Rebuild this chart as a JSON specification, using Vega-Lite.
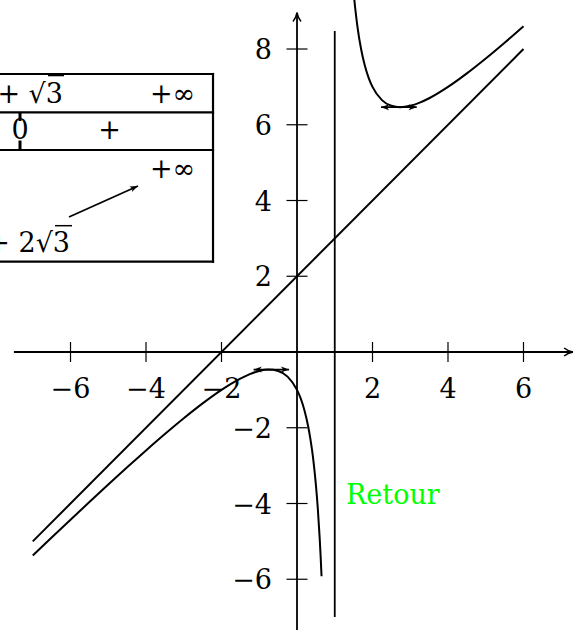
{
  "$schema": "https://vega.github.io/schema/vega-lite/v6.json",
  "width": 574,
  "height": 630,
  "padding": 0,
  "autosize": {"type": "none", "contains": "padding"},
  "config": {"view": {"stroke": null}, "font": "DejaVu Serif"},
  "datasets": {
    "curves": [
      {"x": -7, "y": -5, "c": "asym"}, {"x": 6, "y": 8, "c": "asym"},
      {"x": -7, "y": -5.375, "c": "left"}, {"x": -6.5, "y": -4.9, "c": "left"}, {"x": -6, "y": -4.4286, "c": "left"},
      {"x": -5.5, "y": -3.9615, "c": "left"}, {"x": -5, "y": -3.5, "c": "left"}, {"x": -4.5, "y": -3.0455, "c": "left"},
      {"x": -4, "y": -2.6, "c": "left"}, {"x": -3.5, "y": -2.1667, "c": "left"}, {"x": -3, "y": -1.75, "c": "left"},
      {"x": -2.5, "y": -1.3571, "c": "left"}, {"x": -2, "y": -1, "c": "left"}, {"x": -1.75, "y": -0.8409, "c": "left"},
      {"x": -1.5, "y": -0.7, "c": "left"}, {"x": -1.25, "y": -0.5833, "c": "left"}, {"x": -1, "y": -0.5, "c": "left"},
      {"x": -0.75, "y": -0.4643, "c": "left"}, {"x": -0.5, "y": -0.5, "c": "left"}, {"x": -0.25, "y": -0.65, "c": "left"},
      {"x": 0, "y": -1, "c": "left"}, {"x": 0.1, "y": -1.2333, "c": "left"}, {"x": 0.2, "y": -1.55, "c": "left"},
      {"x": 0.3, "y": -1.9857, "c": "left"}, {"x": 0.35, "y": -2.2654, "c": "left"}, {"x": 0.4, "y": -2.6, "c": "left"},
      {"x": 0.45, "y": -3.0045, "c": "left"}, {"x": 0.5, "y": -3.5, "c": "left"}, {"x": 0.55, "y": -4.1167, "c": "left"},
      {"x": 0.6, "y": -4.9, "c": "left"}, {"x": 0.625, "y": -5.375, "c": "left"}, {"x": 0.65, "y": -5.9214, "c": "left"},
      {"x": 1.45, "y": 10.1167, "c": "right"}, {"x": 1.5, "y": 9.5, "c": "right"}, {"x": 1.55, "y": 9.0045, "c": "right"},
      {"x": 1.6, "y": 8.6, "c": "right"}, {"x": 1.7, "y": 7.9857, "c": "right"}, {"x": 1.8, "y": 7.55, "c": "right"},
      {"x": 1.9, "y": 7.2333, "c": "right"}, {"x": 2, "y": 7, "c": "right"}, {"x": 2.25, "y": 6.65, "c": "right"},
      {"x": 2.5, "y": 6.5, "c": "right"}, {"x": 2.732, "y": 6.464, "c": "right"}, {"x": 3, "y": 6.5, "c": "right"},
      {"x": 3.25, "y": 6.5833, "c": "right"}, {"x": 3.5, "y": 6.7, "c": "right"}, {"x": 4, "y": 7, "c": "right"},
      {"x": 4.5, "y": 7.3571, "c": "right"}, {"x": 5, "y": 7.75, "c": "right"}, {"x": 5.5, "y": 8.1667, "c": "right"},
      {"x": 6, "y": 8.6, "c": "right"}
    ],
    "segs": [
      {"x": -7.5, "y": 0, "x2": 7.31, "y2": 0, "g": "axis"},
      {"x": 0, "y": -7.5, "x2": 0, "y2": 8.96, "g": "axis"},
      {"x": 1, "y": -7.0, "x2": 1, "y2": 8.475, "g": "axis"},
      {"x": -9, "y": 7.34, "x2": -2.225, "y2": 7.34, "g": "table"},
      {"x": -9, "y": 6.329, "x2": -2.225, "y2": 6.329, "g": "table"},
      {"x": -9, "y": 5.333, "x2": -2.225, "y2": 5.333, "g": "table"},
      {"x": -9, "y": 2.384, "x2": -2.225, "y2": 2.384, "g": "table"},
      {"x": -2.225, "y": 2.384, "x2": -2.225, "y2": 7.34, "g": "table"},
      {"x": -7.338, "y": 6.329, "x2": -7.338, "y2": 6.099, "g": "bar"},
      {"x": -7.338, "y": 5.584, "x2": -7.338, "y2": 5.333, "g": "bar"},
      {"x": -1.15, "y": -0.464, "x2": -0.21, "y2": -0.464, "g": "arrow"},
      {"x": 2.225, "y": 6.464, "x2": 3.171, "y2": 6.464, "g": "arrow"},
      {"x": -6.04, "y": 3.564, "x2": -4.212, "y2": 4.383, "g": "arrow"},
      {"x": -6.596, "y": 7.3, "x2": -6.172, "y2": 7.3, "g": "over"},
      {"x": -6.411, "y": 3.335, "x2": -5.96, "y2": 3.335, "g": "over"}
    ],
    "heads": [
      {"x": 7.31, "y": 0, "d": "axr"},
      {"x": 0, "y": 8.96, "d": "axu"},
      {"x": -0.21, "y": -0.464, "d": "r"},
      {"x": -1.15, "y": -0.464, "d": "l"},
      {"x": 3.171, "y": 6.464, "d": "r"},
      {"x": 2.225, "y": 6.464, "d": "l"},
      {"x": -4.212, "y": 4.383, "d": "ne"}
    ],
    "ticks": [
      {"x": -6, "y": 0, "a": "x", "t": "−6"}, {"x": -4, "y": 0, "a": "x", "t": "−4"}, {"x": -2, "y": 0, "a": "x", "t": "−2"},
      {"x": 2, "y": 0, "a": "x", "t": "2"}, {"x": 4, "y": 0, "a": "x", "t": "4"}, {"x": 6, "y": 0, "a": "x", "t": "6"},
      {"x": 0, "y": 8, "a": "y", "t": "8"}, {"x": 0, "y": 6, "a": "y", "t": "6"}, {"x": 0, "y": 4, "a": "y", "t": "4"},
      {"x": 0, "y": 2, "a": "y", "t": "2"}, {"x": 0, "y": -2, "a": "y", "t": "−2"}, {"x": 0, "y": -4, "a": "y", "t": "−4"},
      {"x": 0, "y": -6, "a": "y", "t": "−6"}
    ],
    "tabtext": [
      {"x": -3.298, "y": 6.587, "t": "+∞"},
      {"x": -7.338, "y": 5.611, "t": "0"},
      {"x": -4.967, "y": 5.611, "t": "+"},
      {"x": -3.298, "y": 4.607, "t": "+∞"}
    ],
    "tabends": [
      {"x": -6.199, "y": 6.587, "t": "1 + √3"},
      {"x": -6.013, "y": 2.653, "t": "3 + 2√3"}
    ],
    "notes": [
      {"x": 1.298, "y": -4.013, "t": "Retour"}
    ]
  },
  "encoding": {
    "x": {"field": "x", "type": "quantitative", "scale": {"domain": [-7.868, 7.338], "nice": false, "zero": false}, "axis": null},
    "y": {"field": "y", "type": "quantitative", "scale": {"domain": [-7.34, 9.294], "nice": false, "zero": false}, "axis": null}
  },
  "layer": [
    {
      "data": {"name": "segs"},
      "transform": [{"filter": "datum.g === 'table'"}],
      "mark": {"type": "rule", "color": "black", "strokeWidth": 2.2, "strokeCap": "square", "clip": true},
      "encoding": {"x2": {"field": "x2"}, "y2": {"field": "y2"}}
    },
    {
      "data": {"name": "segs"},
      "transform": [{"filter": "datum.g === 'bar'"}],
      "mark": {"type": "rule", "color": "black", "strokeWidth": 3, "clip": true},
      "encoding": {"x2": {"field": "x2"}, "y2": {"field": "y2"}}
    },
    {
      "data": {"name": "segs"},
      "transform": [{"filter": "datum.g === 'over'"}],
      "mark": {"type": "rule", "color": "black", "strokeWidth": 1.5, "clip": true},
      "encoding": {"x2": {"field": "x2"}, "y2": {"field": "y2"}}
    },
    {
      "data": {"name": "segs"},
      "transform": [{"filter": "datum.g === 'axis'"}],
      "mark": {"type": "rule", "color": "black", "strokeWidth": 1.8, "clip": true},
      "encoding": {"x2": {"field": "x2"}, "y2": {"field": "y2"}}
    },
    {
      "data": {"name": "segs"},
      "transform": [{"filter": "datum.g === 'arrow'"}],
      "mark": {"type": "rule", "color": "black", "strokeWidth": 1.8, "clip": true},
      "encoding": {"x2": {"field": "x2"}, "y2": {"field": "y2"}}
    },
    {
      "data": {"name": "curves"},
      "mark": {"type": "line", "color": "black", "strokeWidth": 2, "interpolate": "monotone", "clip": true},
      "encoding": {"detail": {"field": "c"}}
    },
    {
      "data": {"name": "ticks"},
      "transform": [{"filter": "datum.a === 'x'"}],
      "mark": {"type": "tick", "orient": "vertical", "color": "black", "size": 20, "thickness": 1.2, "opacity": 1, "clip": true}
    },
    {
      "data": {"name": "ticks"},
      "transform": [{"filter": "datum.a === 'y'"}],
      "mark": {"type": "tick", "orient": "horizontal", "color": "black", "size": 21, "thickness": 1.2, "opacity": 1, "clip": true}
    },
    {
      "data": {"name": "ticks"},
      "transform": [{"filter": "datum.a === 'x'"}],
      "mark": {"type": "text", "color": "black", "font": "DejaVu Serif", "fontSize": 27, "align": "center", "baseline": "alphabetic", "dy": 46, "clip": true},
      "encoding": {"text": {"field": "t"}}
    },
    {
      "data": {"name": "ticks"},
      "transform": [{"filter": "datum.a === 'y'"}],
      "mark": {"type": "text", "color": "black", "font": "DejaVu Serif", "fontSize": 27, "align": "right", "baseline": "alphabetic", "dx": -25, "dy": 10, "clip": true},
      "encoding": {"text": {"field": "t"}}
    },
    {
      "data": {"name": "tabtext"},
      "mark": {"type": "text", "color": "black", "font": "DejaVu Serif", "fontSize": 27, "align": "center", "baseline": "alphabetic", "clip": true},
      "encoding": {"text": {"field": "t"}}
    },
    {
      "data": {"name": "tabends"},
      "mark": {"type": "text", "color": "black", "font": "DejaVu Serif", "fontSize": 27, "align": "right", "baseline": "alphabetic", "clip": true},
      "encoding": {"text": {"field": "t"}}
    },
    {
      "data": {"name": "notes"},
      "mark": {"type": "text", "color": "#00ff00", "font": "DejaVu Serif", "fontSize": 27, "align": "left", "baseline": "alphabetic", "clip": true},
      "encoding": {"text": {"field": "t"}}
    },
    {
      "data": {"name": "heads"},
      "transform": [{"filter": "datum.d === 'axr'"}],
      "mark": {"type": "point", "shape": "M -2.2 -1 C -1.5 -0.4 -0.5 -0.1 0 0 C -0.5 0.1 -1.5 0.4 -2.2 1", "size": 64, "angle": 0, "filled": false, "stroke": "black", "strokeWidth": 1.5, "opacity": 1, "clip": true}
    },
    {
      "data": {"name": "heads"},
      "transform": [{"filter": "datum.d === 'axu'"}],
      "mark": {"type": "point", "shape": "M -2.2 -1 C -1.5 -0.4 -0.5 -0.1 0 0 C -0.5 0.1 -1.5 0.4 -2.2 1", "size": 64, "angle": -90, "filled": false, "stroke": "black", "strokeWidth": 1.5, "opacity": 1, "clip": true}
    },
    {
      "data": {"name": "heads"},
      "transform": [{"filter": "datum.d === 'r'"}],
      "mark": {"type": "point", "shape": "M 0 0 L -2.7 -1 L -2 0 L -2.7 1 Z", "size": 36, "angle": 0, "filled": true, "color": "black", "opacity": 1, "clip": true}
    },
    {
      "data": {"name": "heads"},
      "transform": [{"filter": "datum.d === 'l'"}],
      "mark": {"type": "point", "shape": "M 0 0 L -2.7 -1 L -2 0 L -2.7 1 Z", "size": 36, "angle": 180, "filled": true, "color": "black", "opacity": 1, "clip": true}
    },
    {
      "data": {"name": "heads"},
      "transform": [{"filter": "datum.d === 'ne'"}],
      "mark": {"type": "point", "shape": "M 0 0 L -2.7 -1 L -2 0 L -2.7 1 Z", "size": 36, "angle": -24, "filled": true, "color": "black", "opacity": 1, "clip": true}
    }
  ]
}
